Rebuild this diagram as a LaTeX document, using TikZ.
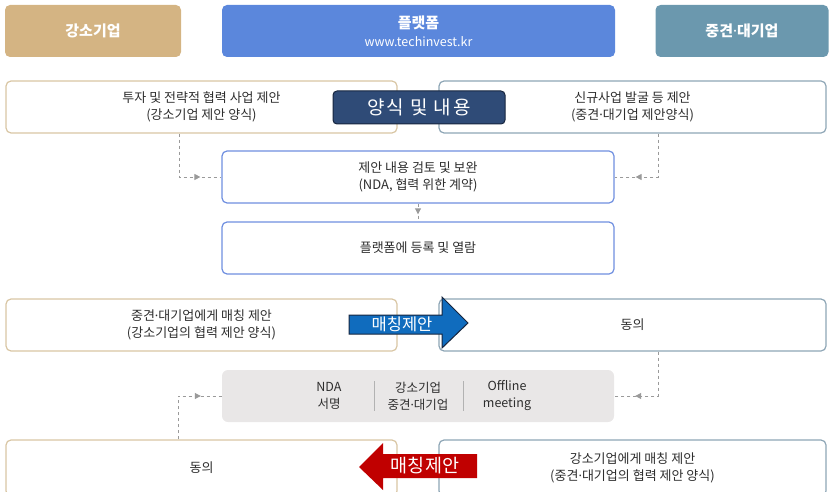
\documentclass[tikz,border=0pt]{standalone}
\usepackage{fontspec}
\setmainfont{Noto Sans CJK KR}
\newfontfamily\dotfont{Noto Sans}
\newcommand\mdot{{\dotfont ·}}
\usetikzlibrary{arrows.meta,decorations.markings}
\definecolor{hdrtan}{HTML}{D4B483}
\definecolor{hdrblue}{HTML}{5B87DC}
\definecolor{hdrsteel}{HTML}{6B98AE}
\definecolor{bdtan}{HTML}{D9C6A4}
\definecolor{bdsteel}{HTML}{8EA6B6}
\definecolor{bdblue}{HTML}{6F8FE0}
\definecolor{navy}{HTML}{2F4B77}
\definecolor{navydark}{HTML}{17263F}
\definecolor{graybox}{HTML}{E9E7E7}
\definecolor{txt}{HTML}{2E2E2E}
\definecolor{arrblue}{HTML}{106CBE}
\definecolor{arrred}{HTML}{C00000}
\definecolor{conn}{HTML}{9A9A9A}
\begin{document}
\begin{tikzpicture}[x=1pt,y=-1pt,
  hdr/.style={rounded corners=5pt, minimum height=52pt, inner sep=0pt, text=white,
    align=center, font=\bfseries\fontsize{15}{20}\selectfont},
  box/.style={draw, line width=1.2pt, rounded corners=5pt, minimum height=52pt,
    fill=white, inner sep=0pt, align=center, text=txt, font=\fontsize{13}{17}\selectfont},
  lbox/.style={box, draw=bdtan, minimum width=391pt},
  rbox/.style={box, draw=bdsteel, minimum width=387pt},
  mbox/.style={box, draw=bdblue, minimum width=392pt},
  gtext/.style={align=center, text=txt, inner sep=0pt, font=\fontsize{12.5}{17}\selectfont},
  link/.style={draw=conn, line width=1pt, dash pattern=on 3pt off 3pt},
  midtip/.style={postaction={decorate}, decoration={markings,
    mark=at position #1 with {\arrow[conn]{Triangle[length=6pt,width=6pt]}}}},
]
\useasboundingbox (0,0) rectangle (830,492);

% headers
\node[hdr, fill=hdrtan, minimum width=176pt] (h1) at (93,31) {강소기업};
\node[hdr, fill=hdrblue, minimum width=393pt] (h2) at (418.5,31)
  {플랫폼\\[-2pt]{\mdseries\fontsize{12.5}{14}\selectfont www.techinvest.kr}};
\node[hdr, fill=hdrsteel, minimum width=173pt] (h3) at (742,31) {중견\mdot 대기업};

% row 1
\node[lbox] (lt) at (201.5,107) {투자 및 전략적 협력 사업 제안\\(강소기업 제안 양식)};
\node[rbox] (rt) at (632.5,107) {신규사업 발굴 등 제안\\(중견\mdot 대기업 제안양식)};

% row 2, 3
\node[mbox] (rev) at (418,177) {제안 내용 검토 및 보완\\(NDA, 협력 위한 계약)};
\node[mbox] (reg) at (418,248) {플랫폼에 등록 및 열람};

% row 4
\node[lbox] (prop1) at (201.5,325) {중견\mdot 대기업에게 매칭 제안\\(강소기업의 협력 제안 양식)};
\node[rbox] (agree1) at (632.5,325) {동의};

% row 5 gray box
\node[fill=graybox, rounded corners=6pt, minimum width=392pt, minimum height=52pt, inner sep=0pt] (gray) at (418,396) {};
\node[gtext] (g1) at (329,396) {NDA\\서명};
\node[gtext] (g2) at (418,396) {강소기업\\중견\mdot 대기업};
\node[gtext] (g3) at (507,396) {Offline\\meeting};
\draw[draw=black!30, line width=0.8pt] (374,381) -- (374,411);
\draw[draw=black!30, line width=0.8pt] (463,381) -- (463,411);

% row 6
\node[lbox, minimum height=56pt] (agree2) at (201.5,468) {동의};
\node[rbox, minimum height=56pt] (prop2) at (632.5,468) {강소기업에게 매칭 제안\\(중견\mdot 대기업의 협력 제안 양식)};

% connectors
\draw[link, midtip=-21pt] ([xshift=-22.5pt]lt.south) |- (rev.west);
\draw[link, midtip=-21pt] ([xshift=25.5pt]rt.south) |- (rev.east);
\draw[link, midtip=0.6] (rev.south) -- (reg.north);
\draw[link, midtip=-21pt] ([xshift=25.5pt]agree1.south) |- (gray.east);
\draw[link, midtip=-21pt] ([xshift=-23.5pt]agree2.north) |- (gray.west);

% label overlay
\node[fill=navy, draw=navydark, line width=1pt, rounded corners=4pt, minimum width=172pt,
  minimum height=33pt, inner sep=0pt, text=white,
  font=\fontsize{19}{20}\selectfont\addfontfeature{LetterSpace=10}] (lab) at (419,107.5) {양식 및 내용};

% blue arrow
\draw[fill=arrblue, draw=navydark, line width=1pt, line join=miter]
  (349,315) -- (442,315) -- (442,297) -- (468,323) -- (442,348) -- (442,334) -- (349,334) -- cycle;
\node[text=white, inner sep=0pt, font=\fontsize{16.5}{18}\selectfont] (m1) at (402,324.5) {매칭제안};

% red arrow
\fill[arrred] (477,454) -- (383,454) -- (383,443) -- (359,467) -- (383,490) -- (383,478) -- (477,478) -- cycle;
\node[text=white, inner sep=0pt, font=\fontsize{18.5}{20}\selectfont] (m2) at (425,466) {매칭제안};
\end{tikzpicture}
\end{document}
